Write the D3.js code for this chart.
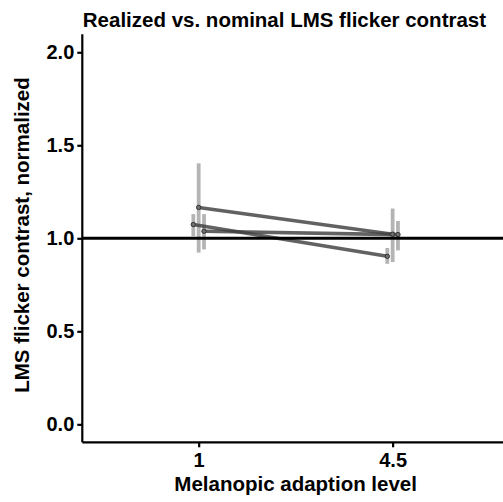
<!DOCTYPE html>
<html>
<head>
<meta charset="utf-8">
<script src="https://cdn.jsdelivr.net/npm/d3@7"></script>
<style>
  body { margin: 0; background: #fff; }
  text { font-family: "Liberation Sans", Arial, sans-serif; font-weight: bold; fill: #000; }
</style>
</head>
<body>
<div id="chart"></div>
<script>
// Melanopic adaptation levels (x categories)
const levels = ["1", "4.5"];
const yTicks = [0, 0.5, 1, 1.5, 2];

// three participants/series, dodged at each level
const seriesNames = ["s1", "s2", "s3"];
const meanValues = [
    [1.074, 0.903],
    [1.166, 1.022],
    [1.038, 1.020]
];
const lowerValues = [
    [1.011, 0.863],
    [0.923, 0.872],
    [0.940, 0.935]
];
const upperValues = [
    [1.130, 0.948],
    [1.403, 1.160],
    [1.130, 1.093]
];
const referenceLine = 1;

const width = 503, height = 502;
const margin = { top: 34.3, right: -6, bottom: 60, left: 82.3 };

const svg = d3.select("#chart")
    .append("svg")
    .attr("width", width)
    .attr("height", height);

// x: discrete positions with ggplot-like expansion
const x = d3.scalePoint()
    .domain(levels)
    .range([margin.left, width - margin.right])
    .padding(0.6);

const y = d3.scaleLinear()
    .domain([-0.0966, 2.0966])
    .range([height - margin.bottom + 0.3, margin.top]);

const dodge = d3.scalePoint()
    .domain(seriesNames)
    .range([-x.step() * 0.0275, x.step() * 0.0275]);

// build table from the arrays
const rows = [];
seriesNames.forEach((s, i) => {
    levels.forEach((lv, j) => {
        rows.push({ series: s, level: lv, mean: meanValues[i][j], lo: lowerValues[i][j], hi: upperValues[i][j] });
    });
});

// error bars
svg.append("g")
    .selectAll("line")
    .data(rows)
    .enter().append("line")
    .attr("x1", d => x(d.level) + dodge(d.series))
    .attr("x2", d => x(d.level) + dodge(d.series))
    .attr("y1", d => y(d.lo))
    .attr("y2", d => y(d.hi))
    .attr("stroke", "#b4b4b4")
    .attr("stroke-width", 3.8);

// connecting lines
const line = d3.line()
    .x(d => x(d.level) + dodge(d.series))
    .y(d => y(d.mean));

svg.append("g")
    .selectAll("path")
    .data(seriesNames)
    .enter().append("path")
    .attr("d", s => line(rows.filter(r => r.series === s)))
    .attr("fill", "none")
    .attr("stroke", "#404040")
    .attr("stroke-opacity", 0.82)
    .attr("stroke-width", 3.6);

// points
svg.append("g")
    .selectAll("circle")
    .data(rows)
    .enter().append("circle")
    .attr("cx", d => x(d.level) + dodge(d.series))
    .attr("cy", d => y(d.mean))
    .attr("r", 2.2)
    .attr("fill", "#707070")
    .attr("stroke", "#333")
    .attr("stroke-width", 1);

// reference line at 1
svg.append("line")
    .attr("x1", margin.left)
    .attr("x2", width)
    .attr("y1", y(referenceLine))
    .attr("y2", y(referenceLine))
    .attr("stroke", "#000")
    .attr("stroke-width", 3);

// axes
const yAxis = svg.append("g")
    .attr("transform", `translate(${margin.left}, 0)`)
    .call(d3.axisLeft(y).tickValues(yTicks).tickFormat(d3.format(".1f")).tickSize(5).tickPadding(3));

const xAxis = svg.append("g")
    .attr("transform", `translate(0, ${y.range()[0]})`)
    .call(d3.axisBottom(x).tickSize(5).tickPadding(6));

[xAxis, yAxis].forEach(a => {
    a.select(".domain").attr("stroke", "#000").attr("stroke-width", 2.2);
    a.selectAll(".tick line").attr("stroke", "#000").attr("stroke-width", 2.2);
    a.selectAll(".tick text").style("font-size", "20px").attr("fill", "#111");
});
yAxis.select(".domain").attr("d", `M0,${y.range()[0]}V${y.range()[1]}`);
xAxis.select(".domain").attr("d", `M${margin.left},0H${width}`);

// title and axis labels
svg.append("text")
    .attr("x", margin.left + 0.5)
    .attr("y", 26.5)
    .style("font-size", "20.5px")
    .text("Realized vs. nominal LMS flicker contrast");

svg.append("text")
    .attr("x", (x("1") + x("4.5")) / 2)
    .attr("y", 491)
    .attr("text-anchor", "middle")
    .style("font-size", "20.5px")
    .text("Melanopic adaption level");

svg.append("text")
    .attr("transform", "rotate(-90)")
    .attr("x", -235)
    .attr("y", 29)
    .attr("text-anchor", "middle")
    .style("font-size", "20.5px")
    .text("LMS flicker contrast, normalized");
</script>
</body>
</html>
